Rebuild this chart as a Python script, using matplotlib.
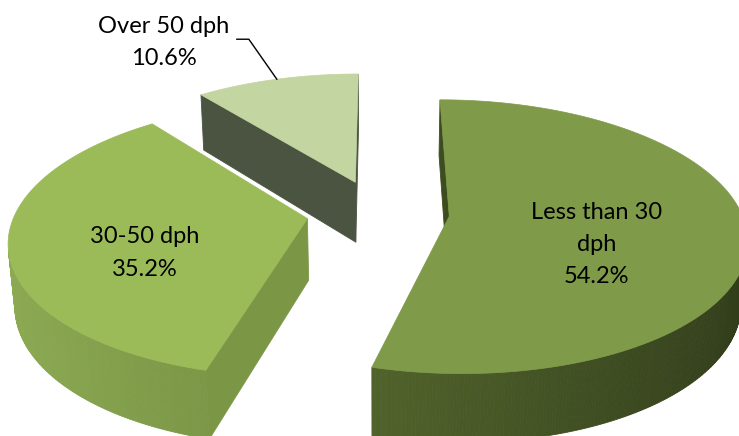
import numpy as np
import matplotlib
matplotlib.use("Agg")
import matplotlib.pyplot as plt
from matplotlib.patches import Polygon
from matplotlib.colors import to_rgb

# data
labels = ["Less than 30\ndph", "30-50 dph", "Over 50 dph"]
shares = [54.2, 35.2, 10.6]
top_colors = ["#7F9A48", "#9BBB59", "#C3D5A0"]
# wall colour at the left-facing side and at the right-facing side
wall_colors = [("#647A35", "#303B1A"), ("#8DAB53", "#5F7733"), ("#5C6650", "#444C3A")]
cut_colors = ["#3E4D1F", "#7B9746", "#4B5440"]

# 3-D view settings
W, H = 739, 436
ELEV = np.radians(27)
DIST = 6.0
SCALE = 292.0
CX, CY = 378.0, 212.0
THICK = 0.24
EXPLODE = 0.245
LABEL_R = [0.5, 0.55, 1.0]
cam = np.array([0.0, -DIST * np.cos(ELEV), DIST * np.sin(ELEV)])


def project(X, Y, Z):
    X, Y, Z = np.broadcast_arrays(np.asarray(X, float), np.asarray(Y, float), np.asarray(Z, float))
    depth = DIST + Y * np.cos(ELEV) - Z * np.sin(ELEV)
    f = SCALE * DIST / depth
    u = CX + X * f
    v = CY - (Y * np.sin(ELEV) + Z * np.cos(ELEV)) * f
    return u, v, depth


def mix(c1, c2, t):
    a, b = np.array(to_rgb(c1)), np.array(to_rgb(c2))
    return tuple(a + (b - a) * np.clip(t, 0, 1))


def facing(nx, ny, px, py):
    # outward normal in the table plane, point px,py on the face
    return nx * (cam[0] - px) + ny * (cam[1] - py) > 0


fig = plt.figure(figsize=(W / 100, H / 100), dpi=100)
ax = fig.add_axes([0, 0, 1, 1])
ax.set_xlim(0, W)
ax.set_ylim(H, 0)
ax.axis("off")

fracs = np.array(shares) / sum(shares)
edges = np.concatenate([[0], np.cumsum(fracs)]) * 2 * np.pi

slices = []
for i in range(len(shares)):
    t1, t2 = edges[i], edges[i + 1]
    mid = (t1 + t2) / 2
    ox, oy = EXPLODE * np.sin(mid), EXPLODE * np.cos(mid)
    slices.append((i, t1, t2, mid, ox, oy))

# far slices first
slices.sort(key=lambda s: -project(s[4], s[5], 0)[2])

label_pos = {}
for i, t1, t2, mid, ox, oy in slices:
    th = np.linspace(t1, t2, max(int((t2 - t1) / 0.01), 4))
    rx, ry = ox + np.sin(th), oy + np.cos(th)
    faces = []
    # outer wall
    for j in range(len(th) - 1):
        tm = (th[j] + th[j + 1]) / 2
        nx, ny = np.sin(tm), np.cos(tm)
        if not facing(nx, ny, ox + nx, oy + ny):
            continue
        xs = [rx[j], rx[j + 1], rx[j + 1], rx[j]]
        ys = [ry[j], ry[j + 1], ry[j + 1], ry[j]]
        zs = [0, 0, -THICK, -THICK]
        u, v, d = project(xs, ys, zs)
        col = mix(wall_colors[i][0], wall_colors[i][1], (nx + 1) / 2)
        faces.append((d.mean(), np.column_stack([u, v]), col))
    # cut faces
    for t, sign in ((t1, -1), (t2, 1)):
        nx, ny = sign * np.cos(t), -sign * np.sin(t)
        ex, ey = ox + np.sin(t), oy + np.cos(t)
        if not facing(nx, ny, (ox + ex) / 2, (oy + ey) / 2):
            continue
        u, v, d = project([ox, ex, ex, ox], [oy, ey, ey, oy], [0, 0, -THICK, -THICK])
        faces.append((d.mean(), np.column_stack([u, v]), cut_colors[i]))
    faces.sort(key=lambda f: -f[0])
    for _, pts, col in faces:
        ax.add_patch(Polygon(pts, closed=True, facecolor=col, edgecolor=col, lw=0.6))
    # top face
    u, v, _ = project(np.concatenate([[ox], rx]), np.concatenate([[oy], ry]), 0)
    ax.add_patch(Polygon(np.column_stack([u, v]), closed=True,
                         facecolor=top_colors[i], edgecolor=top_colors[i], lw=0.5))
    r = LABEL_R[i]
    lu, lv, _ = project(ox + r * np.sin(mid), oy + r * np.cos(mid), 0)
    label_pos[i] = (float(lu), float(lv))

font = dict(family=["Lato", "DejaVu Sans"], fontsize=17, color="black",
            ha="center", va="center", linespacing=1.65)
for i in range(len(shares)):
    lu, lv = label_pos[i]
    text = f"{labels[i]}\n{shares[i]:.1f}%"
    if i == 2:
        # outside label with leader line
        ax.text(lu - 113, lv - 37, text, **font)
        ax.plot([lu, lu - 28, lu - 40], [lv, lv - 40, lv - 40], color="black", lw=1)
    else:
        ax.annotate(text, xy=(lu, lv), xytext=(0, -14), textcoords="offset points", **font)

fig.savefig("out.png", dpi=100, facecolor="white")
